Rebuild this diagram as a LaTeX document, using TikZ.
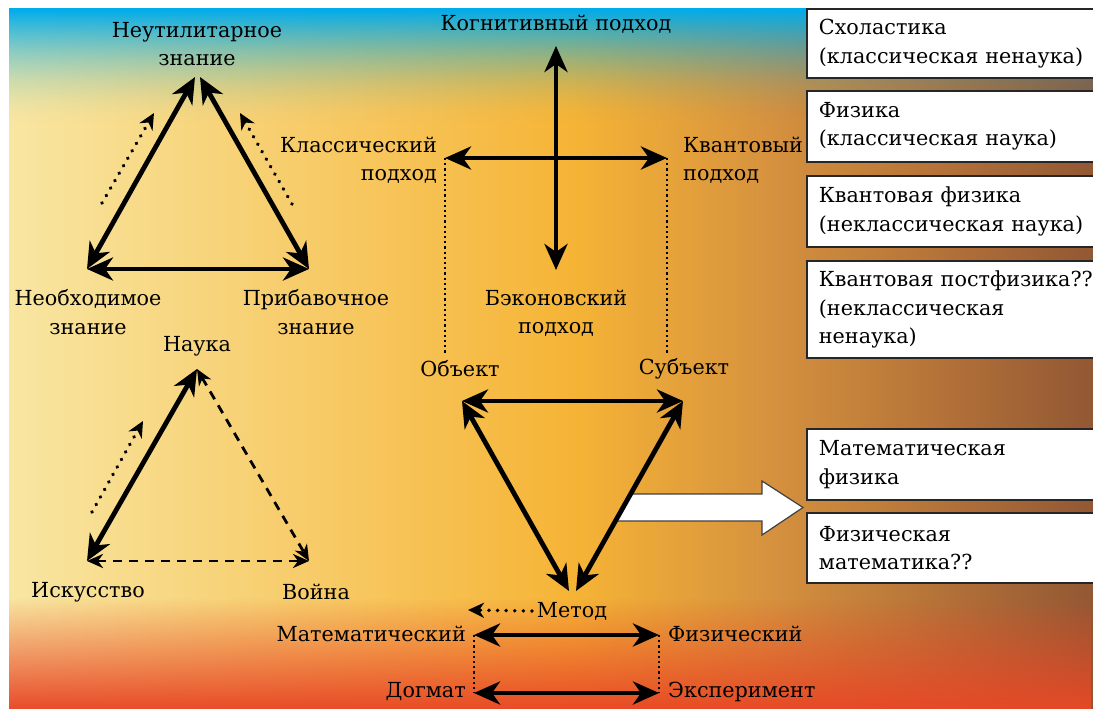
\documentclass[tikz,border=0pt]{standalone}
\usepackage{fontspec}
\setmainfont{DejaVu Serif}
\usetikzlibrary{arrows.meta,fadings}

\definecolor{skyblue}{RGB}{0,172,236}
\definecolor{paleyel}{RGB}{248,230,162}
\definecolor{orng}{RGB}{246,180,54}
\definecolor{ochre}{RGB}{214,146,62}
\definecolor{tan}{RGB}{175,110,56}
\definecolor{brwn}{RGB}{146,88,52}
\definecolor{brick}{RGB}{232,72,38}

% die Mitte (25bp..75bp) der Schattierung deckt das Bild
\pgfdeclarehorizontalshading{bgshade}{100bp}{color(0bp)=(paleyel); color(25bp)=(paleyel); color(51bp)=(orng); color(60bp)=(ochre); color(69bp)=(tan); color(75bp)=(brwn); color(100bp)=(brwn)}
\tikzfading[name=fadebottom, top color=transparent!100, bottom color=transparent!0]

\begin{document}
\begin{tikzpicture}[
  x=1bp, y=-1bp,
  every node/.style={font=\fontsize{20.8}{28.5}\selectfont, align=center, inner sep=0pt, text=black},
  twoway/.style={line width=4.8bp, {Stealth[length=26bp,width=23bp,inset=8bp]}-{Stealth[length=26bp,width=23bp,inset=8bp]}},
  dashway/.style={line width=2.8bp, dash pattern=on 9bp off 7bp, {Stealth[length=16bp,width=14bp,inset=5bp]}-{Stealth[length=16bp,width=14bp,inset=5bp]}},
  hint/.style={line width=3.8bp, line cap=round, dash pattern=on 0.1bp off 8.5bp, -{Stealth[length=16bp,width=15bp,inset=5bp]}},
  guide/.style={line width=2.2bp, dash pattern=on 2.2bp off 3bp},
  box/.style={draw=black!85, line width=1.8bp, fill=white, anchor=west, text width=300bp, inner xsep=12bp, align=left}
]
\clip (0,0) rectangle (1093,709);
\fill[white] (0,0) rectangle (1093,709);

% Hintergrund
\begin{scope}
  \clip (9,9) rectangle (1093,709);
  \shade[shading=bgshade] (9,9) rectangle (1093,709);
  % Himmel oben, in Streifen
  \fill[skyblue] (9,4) rectangle (1093,10);
  \foreach \yy in {10,...,124} {
    \pgfmathsetmacro\op{(1-(\yy-9)/116)^1.8}
    \fill[skyblue, fill opacity=\op] (9,\yy) rectangle (1093,\yy+1);
  }
  \fill[brick, path fading=fadebottom] (9,598) rectangle (1093,712);
\end{scope}

% Dreieck 1: Wissen
\node (neut) at (197,44) {Неутилитарное\\знание};
\node (neob) at (88,312) {Необходимое\\знание};
\node (prib) at (316,312) {Прибавочное\\знание};
\coordinate (t1a) at (195,77);
\coordinate (t1b) at (200,77);
\coordinate (t1l) at (87,269);
\coordinate (t1r) at (309,269);
\draw[twoway] (t1a) -- (t1l);
\draw[twoway] (t1b) -- (t1r);
\draw[twoway] (t1l) -- (t1r);
\coordinate (h1s) at (102,203);
\coordinate (h1e) at (154,113);
\coordinate (h2s) at (292,204);
\coordinate (h2e) at (240,113);
\draw[hint] (h1s) -- (h1e);
\draw[hint] (h2s) -- (h2e);

% Dreieck 2: Wissenschaft
\node (nauk) at (197,346) {Наука};
\node (isk) at (88,592) {Искусство};
\node (voin) at (316,592) {Война};
\coordinate (t2a) at (197,369);
\coordinate (t2l) at (87,561);
\coordinate (t2r) at (309,561);
\draw[twoway] (t2a) -- (t2l);
\draw[dashway] (t2a) -- (t2r);
\draw[dashway] (t2l) -- (t2r);
\coordinate (h3s) at (92,512);
\coordinate (h3e) at (143,421);
\draw[hint] (h3s) -- (h3e);

% Kreuz der Ansaetze
\node (kogn) at (556,24) {Когнитивный подход};
\node[anchor=east, align=right] (klas) at (437,160) {Классический\\подход};
\node[anchor=west, align=left] (kvan) at (683,160) {Квантовый\\подход};
\node (bek) at (556,313) {Бэконовский\\подход};
\coordinate (vtop) at (556,46);
\coordinate (vbot) at (556,270);
\coordinate (hl) at (445,158);
\coordinate (hr) at (667,158);
\draw[twoway] (vtop) -- (vbot);
\draw[twoway] (hl) -- (hr);
\coordinate (gl) at (445,355);
\coordinate (gr) at (667,355);
\draw[guide] (hl) -- (gl);
\draw[guide] (hr) -- (gr);

% Dreieck 3: Objekt / Subjekt / Methode
\node (obj) at (460,369) {Объект};
\node (subj) at (684,369) {Субъект};
\node (met) at (572,611) {Метод};
\coordinate (t3l) at (462,401);
\coordinate (t3r) at (683,401);
\coordinate (t3a) at (569,591);
\coordinate (t3b) at (576,591);
% breiter Pfeil
\draw[fill=white, draw=black!75, line width=1.2bp] (630,494) -- (762,494) -- (762,481) -- (803,507.5) -- (762,535) -- (762,521) -- (614,521) -- cycle;
\draw[twoway] (t3l) -- (t3r);
\draw[twoway] (t3l) -- (t3a);
\draw[twoway] (t3r) -- (t3b);
\coordinate (h4s) at (532,611);
\coordinate (h4e) at (468,610);
\draw[hint] (h4s) -- (h4e);

% Methoden
\node[anchor=east] (math) at (466,634) {Математический};
\node[anchor=west] (fiz) at (668,634) {Физический};
\node[anchor=east] (dogm) at (466,692) {Догмат};
\node[anchor=west] (eksp) at (668,692) {Эксперимент};
\coordinate (m1l) at (474,635);
\coordinate (m1r) at (659,635);
\coordinate (m2l) at (474,693);
\coordinate (m2r) at (659,693);
\draw[twoway] (m1l) -- (m1r);
\draw[twoway] (m2l) -- (m2r);
\draw[guide] (m1l) -- (m2l);
\draw[guide] (m1r) -- (m2r);

% Kaesten rechts
\node[box, minimum height=69bp] (b1) at (806,43.5) {Схоластика\\(классическая ненаука)};
\node[box, minimum height=71bp] (b2) at (806,126.5) {Физика\\(классическая наука)};
\node[box, minimum height=71bp] (b3) at (806,211.5) {Квантовая физика\\(неклассическая наука)};
\node[box, minimum height=97bp] (b4) at (806,309.5) {Квантовая постфизика??\\(неклассическая\\ненаука)};
\node[box, minimum height=71bp] (b5) at (806,464.5) {Математическая\\физика};
\node[box, minimum height=70bp] (b6) at (806,548) {Физическая\\математика??};
\end{tikzpicture}
\end{document}
